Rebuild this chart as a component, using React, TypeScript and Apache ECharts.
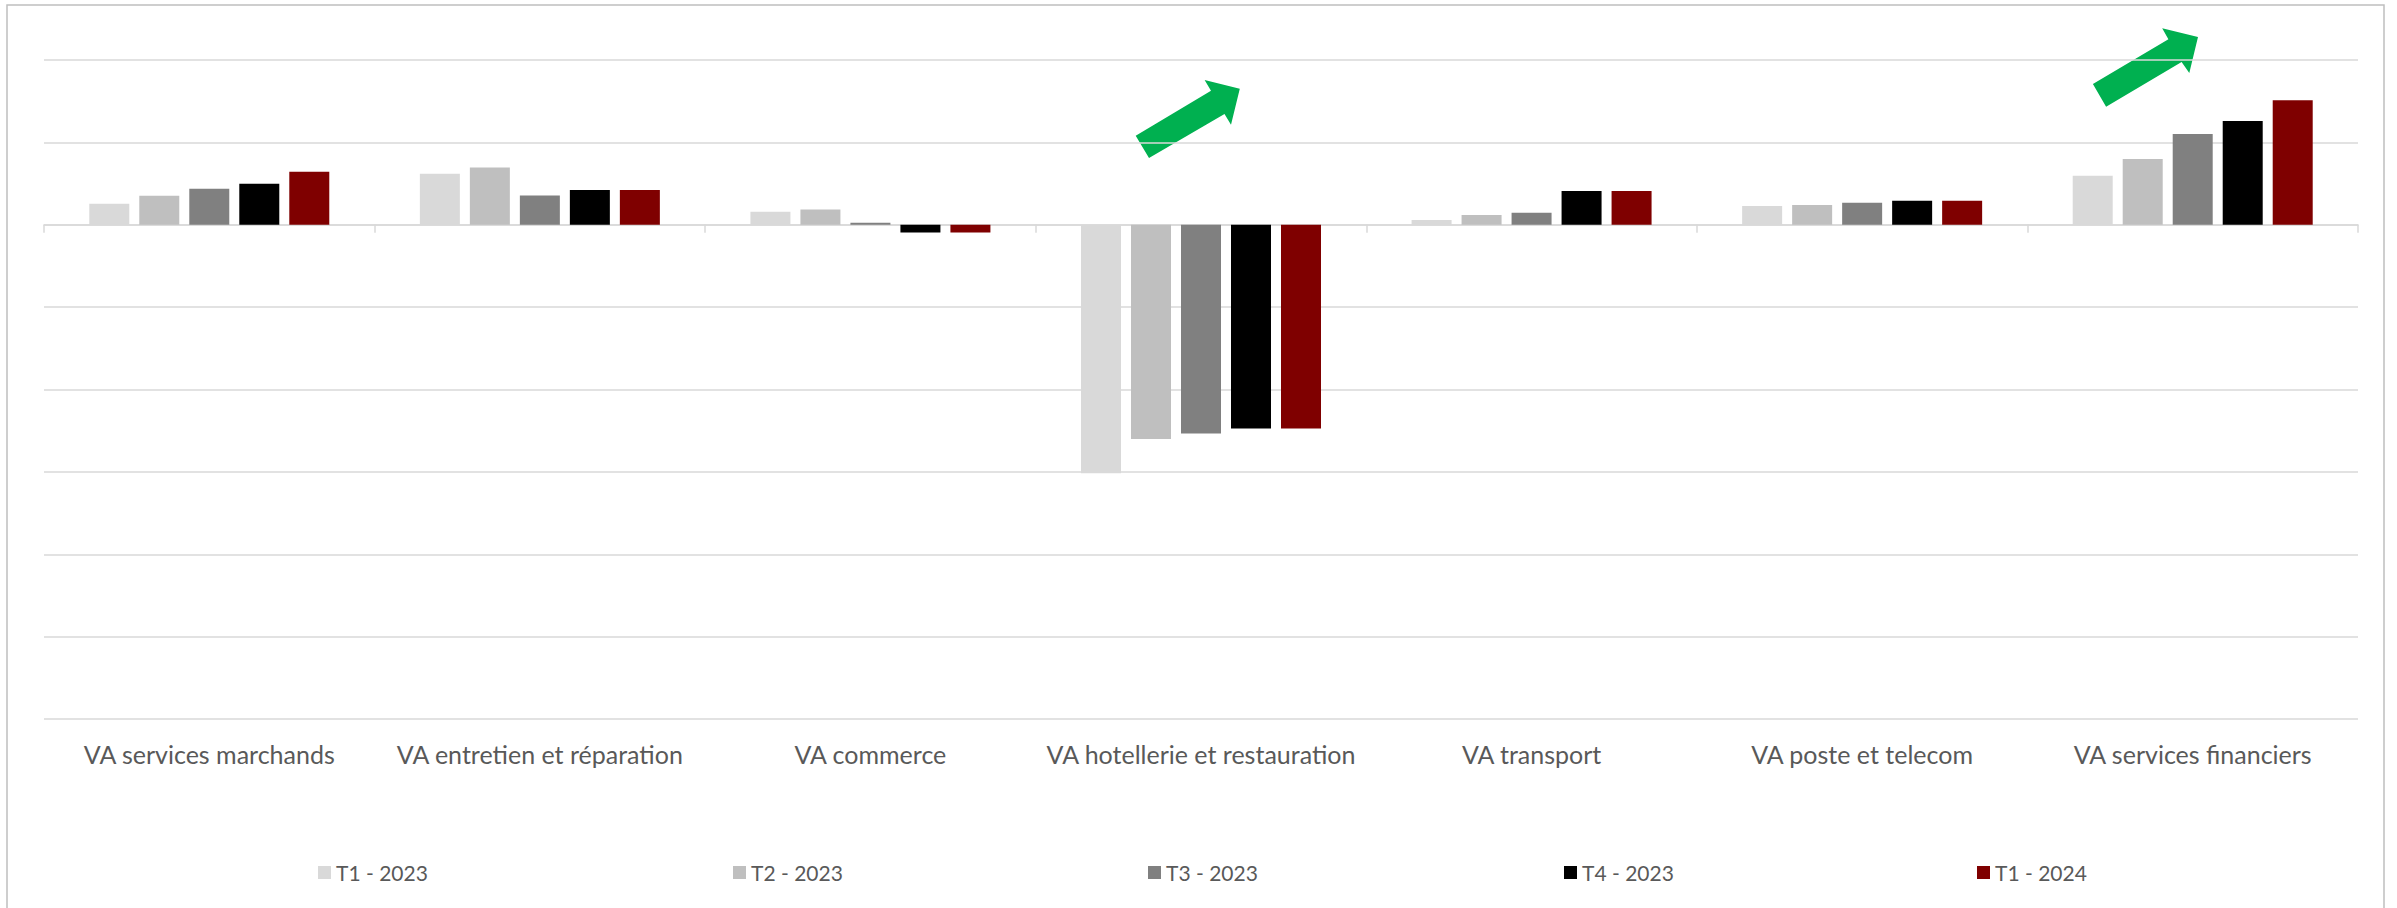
import React, { useEffect, useRef } from "react";
import * as echarts from "echarts";

const categories = [
  "VA services marchands",
  "VA entretien et réparation",
  "VA commerce",
  "VA hotellerie et restauration",
  "VA transport",
  "VA poste et telecom",
  "VA services financiers",
];

const seriesNames = ["T1 - 2023", "T2 - 2023", "T3 - 2023", "T4 - 2023", "T1 - 2024"];

const t1_2023 = [0.255, 0.619, 0.158, -3.016, 0.057, 0.227, 0.595];
const t2_2023 = [0.352, 0.696, 0.186, -2.6, 0.117, 0.239, 0.798];
const t3_2023 = [0.437, 0.356, 0.024, -2.534, 0.146, 0.267, 1.101];
const t4_2023 = [0.498, 0.421, -0.093, -2.474, 0.409, 0.291, 1.259];
const t1_2024 = [0.644, 0.421, -0.093, -2.474, 0.409, 0.291, 1.51];

const seriesValues = [t1_2023, t2_2023, t3_2023, t4_2023, t1_2024];
const seriesColors = ["#D9D9D9", "#BFBFBF", "#808080", "#000000", "#7F0000"];

const FONT = "Lato";
const legendLefts = [318, 733, 1148, 1564, 1977];

export default function App() {
  const ref = useRef<HTMLDivElement>(null);

  useEffect(() => {
    if (!ref.current) return;
    const chart = echarts.init(ref.current, undefined, { renderer: "svg" });

    const arrow1 = [
      [1135.7, 135.7],
      [1211, 90.7],
      [1204.6, 80],
      [1239.8, 88.7],
      [1231, 124.7],
      [1224.5, 114],
      [1149, 158],
    ];
    const arrow2 = [
      [2092.9, 84],
      [2168.4, 39.3],
      [2162.2, 28.3],
      [2198, 37],
      [2189.3, 73],
      [2181.6, 62],
      [2106.1, 106.7],
    ];

    const option: any = {
      animation: false,
      backgroundColor: "#FFFFFF",
      textStyle: { fontFamily: FONT },
      grid: { left: 44, right: 39, top: 60, bottom: 189, containLabel: false },
      xAxis: [
        {
          type: "category",
          data: categories,
          boundaryGap: true,
          axisLine: { show: true, onZero: true, lineStyle: { color: "#D9D9D9", width: 1.5 } },
          axisTick: { show: true, length: 8, lineStyle: { color: "#D9D9D9", width: 1.5 } },
          axisLabel: { show: false },
          splitLine: { show: false },
        },
        {
          type: "category",
          data: categories,
          position: "bottom",
          boundaryGap: true,
          axisLine: { show: false, onZero: false },
          axisTick: { show: false },
          axisLabel: {
            show: true,
            interval: 0,
            margin: 22,
            color: "#595959",
            fontFamily: FONT,
            fontSize: 25,
          },
          splitLine: { show: false },
        },
      ],
      yAxis: {
        type: "value",
        min: -6,
        max: 2,
        interval: 1,
        axisLine: { show: false },
        axisTick: { show: false },
        axisLabel: { show: false },
        splitLine: { show: true, lineStyle: { color: "#D9D9D9", width: 1.5 } },
      },
      legend: seriesNames.map((name, i) => ({
        data: [name],
        left: legendLefts[i],
        top: 862,
        padding: 0,
        itemWidth: 13,
        itemHeight: 13,
        itemGap: 0,
        icon: "rect",
        textStyle: { color: "#595959", fontFamily: FONT, fontSize: 21 },
        selectedMode: false,
      })),
      series: seriesNames.map((name, i) => ({
        name,
        type: "bar",
        xAxisIndex: 0,
        data: seriesValues[i],
        barWidth: 40,
        barGap: "25%",
        itemStyle: { color: seriesColors[i] },
      })),
      graphic: [
        {
          type: "rect",
          shape: { x: 7, y: 5, width: 2377, height: 930 },
          style: { fill: "none", stroke: "#BFBFBF", lineWidth: 1.5 },
          silent: true,
        },
        {
          type: "polygon",
          shape: { points: arrow1 },
          style: { fill: "#00B050" },
          silent: true,
        },
        {
          type: "polygon",
          shape: { points: arrow2 },
          style: { fill: "#00B050" },
          silent: true,
        },
      ],
    };

    chart.setOption(option);
    return () => chart.dispose();
  }, []);

  return (
    <div
      ref={ref}
      style={{ position: "fixed", left: 0, top: 0, width: 2397, height: 908 }}
    />
  );
}
